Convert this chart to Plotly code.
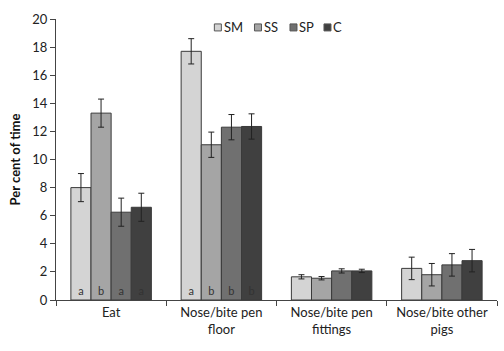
import plotly.graph_objects as go

categories = ["Eat", "Nose/bite pen<br>floor", "Nose/bite pen<br>fittings", "Nose/bite other<br>pigs"]
series = ["SM", "SS", "SP", "C"]
values = {
    "SM": [8.0, 17.7, 1.65, 2.25],
    "SS": [13.3, 11.05, 1.55, 1.8],
    "SP": [6.25, 12.3, 2.07, 2.5],
    "C":  [6.6, 12.35, 2.07, 2.8],
}
errors = {
    "SM": [1.0, 0.9, 0.15, 0.8],
    "SS": [1.0, 0.9, 0.12, 0.8],
    "SP": [1.0, 0.9, 0.15, 0.8],
    "C":  [1.0, 0.9, 0.12, 0.8],
}
letters = {
    "SM": ["a", "a", "", ""],
    "SS": ["b", "b", "", ""],
    "SP": ["a", "b", "", ""],
    "C":  ["a", "b", "", ""],
}
colors = {"SM": "#d4d4d4", "SS": "#a5a5a5", "SP": "#707070", "C": "#404040"}
y_ticks = [0, 2, 4, 6, 8, 10, 12, 14, 16, 18, 20]

# legend key placement (paper fraction of plot width) -- style only
legend_x = [0.367, 0.458, 0.5385, 0.6156]
legend_y = 0.970

FONT = "Lato, 'Open Sans', sans-serif"

fig = go.Figure()
for s in series:
    fig.add_trace(go.Bar(
        name=s,
        x=categories,
        y=values[s],
        marker=dict(color=colors[s], line=dict(color="#3a3a3a", width=1)),
        error_y=dict(type="data", array=errors[s], visible=True,
                     color="#222222", thickness=1, width=3),
        text=letters[s],
        textposition="inside",
        insidetextanchor="start",
        textangle=0,
        insidetextfont=dict(color="#333333", size=11, family=FONT),
        cliponaxis=False,
        showlegend=False,
    ))

# compact legend: key squares + labels
for s, lx in zip(series, legend_x):
    fig.add_shape(
        type="rect", xref="paper", yref="paper",
        xsizemode="pixel", ysizemode="pixel",
        xanchor=lx, yanchor=legend_y,
        x0=-3.5, x1=3.5, y0=-3.5, y1=3.5,
        fillcolor=colors[s], line=dict(color="#555555", width=1),
    )
    fig.add_annotation(
        x=lx, y=legend_y, xref="paper", yref="paper",
        text=s, showarrow=False, xanchor="left", yanchor="middle",
        xshift=4, font=dict(size=13, color="#222222", family=FONT),
    )

fig.update_layout(
    width=504, height=351,
    margin=dict(l=56, r=7, t=19, b=51),
    barmode="group",
    bargap=0.27,
    bargroupgap=0,
    plot_bgcolor="white",
    paper_bgcolor="white",
    font=dict(family=FONT, size=13, color="#222222"),
    showlegend=False,
    uniformtext=dict(minsize=8, mode="show"),
)

fig.update_xaxes(
    showline=True, linecolor="#444444", linewidth=1,
    ticks="outside", ticklen=5, tickcolor="#444444",
    tickson="boundaries",
    tickangle=0,
    automargin=False,
    showgrid=False,
    tickfont=dict(size=13, color="#222222"),
    range=[-0.5, 3.5],
)
fig.update_yaxes(
    range=[0, 20],
    tickvals=y_ticks,
    automargin=False,
    showline=True, linecolor="#444444", linewidth=1,
    ticks="outside", ticklen=5, tickcolor="#444444",
    showgrid=False, zeroline=False,
    tickfont=dict(size=13, color="#222222"),
    title=dict(text="<b>Per cent of time</b>", font=dict(size=13, color="#111111"), standoff=8),
)

fig.write_html("out.html")
